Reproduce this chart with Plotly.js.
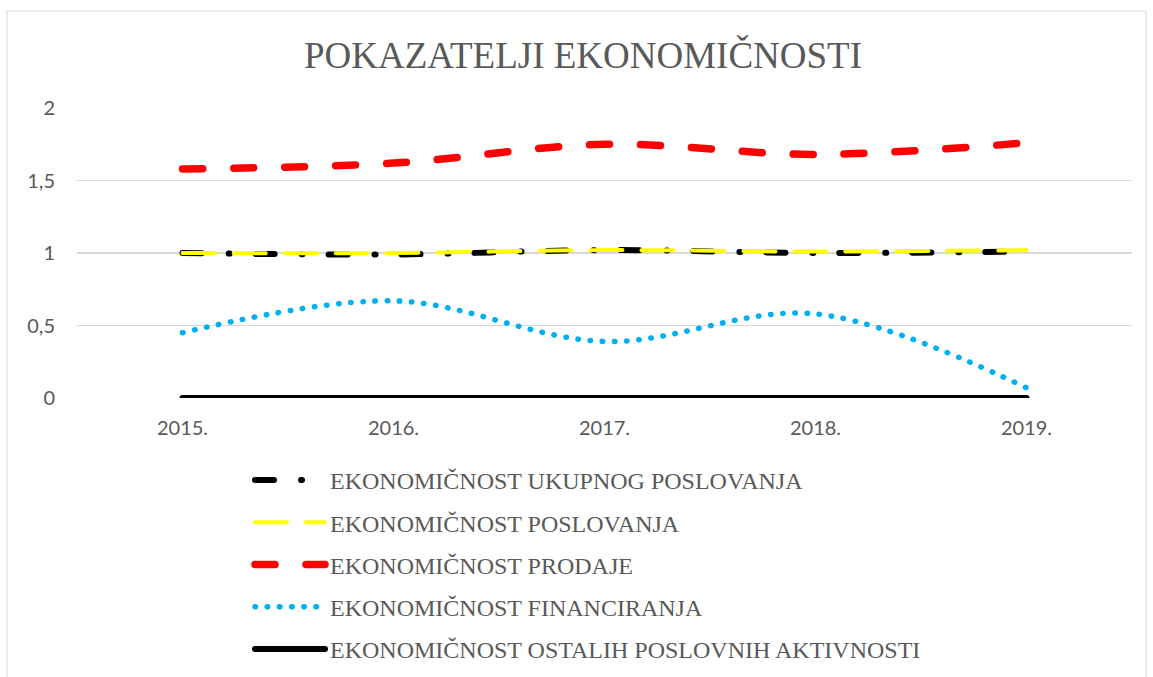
<!DOCTYPE html>
<html>
<head>
<meta charset="utf-8">
<script src="https://cdn.plot.ly/plotly-3.0.1.min.js"></script>
<style>
  html, body { margin: 0; padding: 0; background: #fff; }
  #chart { width: 1153px; height: 677px; }
  path.js-line { stroke-linecap: round; }
</style>
</head>
<body>
<div id="chart"></div>
<script>
const years = ['2015.', '2016.', '2017.', '2018.', '2019.'];
const ukupnog = [1.00, 0.99, 1.02, 1.00, 1.01];
const poslovanja = [1.00, 1.00, 1.02, 1.01, 1.02];
const prodaje = [1.58, 1.62, 1.75, 1.68, 1.76];
const financiranja = [0.45, 0.67, 0.39, 0.58, 0.07];
const ostalih = [0, 0, 0, 0, 0];
const yTickVals = [0, 0.5, 1, 1.5, 2];
const yTickText = ['0', '0,5', '1', '1,5', '2'];
const names = [
  'EKONOMIČNOST UKUPNOG POSLOVANJA',
  'EKONOMIČNOST POSLOVANJA',
  'EKONOMIČNOST PRODAJE',
  'EKONOMIČNOST FINANCIRANJA',
  'EKONOMIČNOST OSTALIH POSLOVNIH AKTIVNOSTI'
];

function tr(y, name, color, width, dash, shape, group, rank) {
  return {
    x: years, y: y, name: name, type: 'scatter', mode: 'lines',
    line: {color: color, width: width, dash: dash, shape: shape, smoothing: 1},
    legendgroup: group, legendrank: rank, cliponaxis: false, hoverinfo: 'none'
  };
}

const data = [
  tr(ostalih, names[4], '#000000', 6, 'solid', 'linear', 'g5', 5),
  tr(financiranja, names[3], '#00B0F0', 5.5, '0.5px,11.7px', 'spline', 'g4', 4),
  tr(prodaje, names[2], '#FF0000', 7.5, '20px,31px', 'spline', 'g3', 3),
  tr(ukupnog, names[0], '#000000', 6, '19px,27px,1px,26px', 'spline', 'g1', 1),
  tr(poslovanja, names[1], '#FFFF00', 4, '32px,19px', 'spline', 'g2', 2)
];

const layout = {
  width: 1153, height: 677,
  margin: {l: 77, r: 21, t: 108, b: 279},
  paper_bgcolor: '#ffffff', plot_bgcolor: '#ffffff',
  title: {
    text: 'POKAZATELJI EKONOMIČNOSTI',
    font: {family: 'Liberation Serif, Times New Roman, serif', size: 37, color: '#595959'},
    x: 583 / 1153, xanchor: 'center', xref: 'container',
    y: 0.918, yanchor: 'middle', yref: 'container'
  },
  xaxis: {
    type: 'category', range: [-0.5, 4.5],
    showgrid: false, zeroline: false, showline: false,
    ticks: 'outside', ticklen: 12, tickcolor: 'rgba(0,0,0,0)',
    tickfont: {family: 'Lato, Open Sans, sans-serif', size: 20, color: '#595959'},
    fixedrange: true
  },
  yaxis: {
    range: [0, 2], tickvals: yTickVals, ticktext: yTickText,
    showgrid: true, gridcolor: '#d9d9d9', gridwidth: 1.5,
    zeroline: false, showline: false,
    ticks: 'outside', ticklen: 17, tickcolor: 'rgba(0,0,0,0)',
    tickfont: {family: 'Lato, Open Sans, sans-serif', size: 20, color: '#595959'},
    fixedrange: true
  },
  showlegend: true,
  legend: {
    orientation: 'v',
    xref: 'paper', x: (250 - 77) / 1055, xanchor: 'left',
    yref: 'container', y: 1 - 458 / 677, yanchor: 'top',
    traceorder: 'grouped', tracegroupgap: 8,
    itemwidth: 70,
    font: {family: 'Liberation Serif, Times New Roman, serif', size: 24, color: '#595959'},
    bgcolor: 'rgba(0,0,0,0)', itemclick: false, itemdoubleclick: false
  },
  shapes: [{
    type: 'rect', xref: 'paper', yref: 'paper',
    x0: (7 - 77) / 1055, x1: (1146 - 77) / 1055,
    y0: (398 - 700) / 290, y1: (398 - 11) / 290,
    line: {color: '#d9d9d9', width: 1}, fillcolor: 'rgba(0,0,0,0)', layer: 'below'
  }]
};

Plotly.newPlot('chart', data, layout, {displayModeBar: false, staticPlot: true});
</script>
</body>
</html>
